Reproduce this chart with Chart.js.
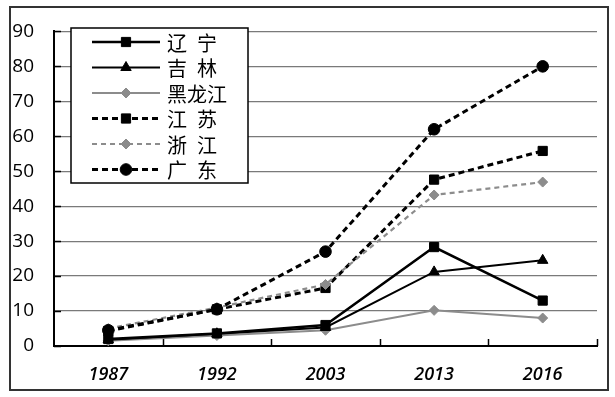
<!DOCTYPE html>
<html>
<head>
<meta charset="utf-8">
<script src="https://cdn.jsdelivr.net/npm/chart.js@4/dist/chart.umd.min.js"></script>
<style>
html,body{margin:0;padding:0;background:#fff;}
#wrap{width:615px;height:397px;position:relative;}
</style>
</head>
<body>
<div id="wrap"><canvas id="c" width="615" height="397"></canvas></div>
<script>
// ---- data ----
const years = ['1987', '1992', '2003', '2013', '2016'];
const seriesNames = ['辽 宁', '吉 林', '黑龙江', '江 苏', '浙 江', '广 东'];
const liaoning     = [2.0, 3.6, 6.0, 28.3, 13.0];
const jilin        = [1.8, 3.5, 5.3, 21.2, 24.5];
const heilongjiang = [1.5, 3.0, 4.5, 10.2, 8.0];
const jiangsu      = [4.3, 10.5, 16.6, 47.6, 55.8];
const zhejiang     = [5.0, 11.0, 17.6, 43.2, 46.9];
const guangdong    = [4.5, 10.5, 27.0, 62.0, 80.0];
const yTicks = [0, 10, 20, 30, 40, 50, 60, 70, 80, 90];

const BLACK = '#000000';
const GRAY = '#8c8c8c';

function ds(label, data, color, dash, width, style, radius, order) {
  return {
    label, data,
    borderColor: color, backgroundColor: color,
    pointBackgroundColor: color, pointBorderColor: color,
    borderWidth: width, borderDash: dash,
    pointStyle: style, pointRadius: radius, pointHoverRadius: radius,
    pointBorderWidth: 1, tension: 0, order
  };
}

const datasets = [
  ds(seriesNames[0], liaoning, BLACK, [], 2.5, 'rect', 6.5, 3),
  ds(seriesNames[1], jilin, BLACK, [], 2, 'triangle', 6, 4),
  ds(seriesNames[2], heilongjiang, GRAY, [], 2, 'rectRot', 5, 5),
  ds(seriesNames[3], jiangsu, BLACK, [6, 4], 3, 'rect', 6.5, 2),
  ds(seriesNames[4], zhejiang, GRAY, [5, 4], 2.2, 'rectRot', 5, 1),
  ds(seriesNames[5], guangdong, BLACK, [6, 4], 3, 'circle', 5.8, 0)
];

function drawMarker(ctx, style, x, y, r, color) {
  ctx.save();
  ctx.fillStyle = color;
  ctx.strokeStyle = color;
  ctx.lineWidth = 1;
  ctx.setLineDash([]);
  ctx.beginPath();
  if (style === 'circle') {
    ctx.arc(x, y, r, 0, Math.PI * 2);
  } else if (style === 'rect') {
    const s = Math.SQRT1_2 * r;
    ctx.rect(x - s, y - s, 2 * s, 2 * s);
  } else if (style === 'triangle') {
    ctx.moveTo(x, y - r);
    ctx.lineTo(x + r * Math.sqrt(3) / 2, y + r / 2);
    ctx.lineTo(x - r * Math.sqrt(3) / 2, y + r / 2);
    ctx.closePath();
  } else if (style === 'rectRot') {
    ctx.moveTo(x - r, y); ctx.lineTo(x, y - r); ctx.lineTo(x + r, y); ctx.lineTo(x, y + r);
    ctx.closePath();
  }
  ctx.fill();
  ctx.stroke();
  ctx.restore();
}

const framePlugin = {
  id: 'frame',
  beforeDraw(chart) {
    const ctx = chart.ctx;
    ctx.save();
    ctx.fillStyle = '#fff';
    ctx.fillRect(0, 0, chart.width, chart.height);
    ctx.strokeStyle = '#333';
    ctx.lineWidth = 2;
    ctx.strokeRect(10, 7, 598, 383);
    ctx.restore();
  },
  beforeDatasetsDraw(chart) {
    const ctx = chart.ctx;
    const y = chart.scales.y;
    const area = chart.chartArea;
    ctx.save();
    ctx.strokeStyle = '#000';
    ctx.lineWidth = 1.5;
    ctx.beginPath();
    const n = years.length;
    const step = (area.right - area.left) / n;
    for (let i = 1; i <= n; i++) {
      const px = Math.round(area.left + i * step) + 0.5;
      ctx.moveTo(px, area.bottom);
      ctx.lineTo(px, area.bottom - 7);
    }
    yTicks.forEach(v => {
      const py = Math.round(y.getPixelForValue(v)) + 0.5;
      ctx.moveTo(area.left, py);
      ctx.lineTo(area.left + 7, py);
    });
    ctx.stroke();
    ctx.restore();
  },
  afterDraw(chart) {
    const ctx = chart.ctx;
    const bx = 71, by = 28, bw = 177, bh = 155;
    ctx.save();
    ctx.fillStyle = '#fff';
    ctx.fillRect(bx, by, bw, bh);
    ctx.strokeStyle = '#000';
    ctx.lineWidth = 1.5;
    ctx.strokeRect(bx, by, bw, bh);
    chart.data.datasets.forEach((d, i) => {
      const cy = 42 + i * 25.5;
      ctx.save();
      ctx.strokeStyle = d.borderColor;
      ctx.lineWidth = d.borderWidth;
      ctx.setLineDash(d.borderDash || []);
      ctx.beginPath();
      ctx.moveTo(92, cy);
      ctx.lineTo(160, cy);
      ctx.stroke();
      ctx.restore();
      drawMarker(ctx, d.pointStyle, 126, cy, d.pointRadius, d.pointBackgroundColor);
      ctx.fillStyle = '#000';
      ctx.font = '20px "Noto Sans CJK SC"';
      ctx.textBaseline = 'middle';
      ctx.textAlign = 'left';
      const parts = d.label.split(' ');
      if (parts.length === 2) {
        ctx.fillText(parts[0], 167, cy + 1);
        ctx.fillText(parts[1], 197, cy + 1);
      } else {
        ctx.fillText(d.label, 167, cy + 1);
      }
    });
    ctx.restore();
  }
};

new Chart(document.getElementById('c'), {
  type: 'line',
  data: { labels: years, datasets },
  plugins: [framePlugin],
  options: {
    responsive: false,
    animation: false,
    devicePixelRatio: 1,
    layout: { padding: { left: 0, top: 23, right: 18, bottom: 0 } },
    plugins: { legend: { display: false }, tooltip: { enabled: false } },
    scales: {
      x: {
        type: 'category',
        offset: true,
        grid: { display: true, drawOnChartArea: false, drawTicks: false },
        border: { display: true, color: '#000', width: 2 },
        ticks: {
          color: '#000',
          padding: 18,
          font: { family: '"Open Sans"', size: 18, style: 'italic', weight: '600' }
        },
        afterFit(s) { s.height = 51; }
      },
      y: {
        min: 0, max: 90,
        afterBuildTicks(s) { s.ticks = yTicks.map(v => ({ value: v })); },
        grid: { color: '#7a7a7a', lineWidth: 1.2, drawTicks: false },
        border: { display: true, color: '#000', width: 2 },
        ticks: {
          color: '#000',
          padding: 20,
          font: { family: '"Open Sans"', size: 19 }
        },
        afterFit(s) { s.width = 54; }
      }
    }
  }
});
</script>
</body>
</html>
